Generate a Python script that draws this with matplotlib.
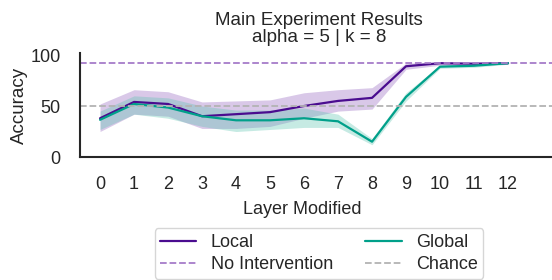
import numpy as np
import matplotlib
matplotlib.use('Agg')
import matplotlib.pyplot as plt
import seaborn as sns

layers = list(range(13))
local_acc = [38, 54, 52, 40, 42, 44, 50, 55, 58, 89, 92, 91.5, 92]
local_lo = [25, 42, 40, 28, 28, 30, 38, 45, 47, 86, 90, 90, 91]
local_hi = [52, 66, 64, 54, 55, 56, 63, 66, 68, 92, 93, 93, 93]
global_acc = [36.5, 52, 48.5, 40, 36, 36, 38, 35, 15, 59, 88.6, 89.5, 92]
global_lo = [27, 42, 38, 30, 25, 27, 29, 29, 12, 55, 87, 88, 91]
global_hi = [45, 60, 58, 50, 46, 46, 48, 42, 18, 63, 90, 91, 93]
no_intervention = 92
chance = 50

sns.set_theme(style='white')
plt.rcParams['font.family'] = ['Liberation Sans', 'DejaVu Sans']

local_color = '#4a0c8f'
global_color = '#00a08a'

fig = plt.figure(figsize=(5.52, 2.8), dpi=100)
ax = fig.add_axes([80 / 552, 1 - 157 / 280, 478 / 552, 104 / 280])

ax.plot(layers, local_acc, color=local_color, lw=1.6, label='Local')
ax.fill_between(layers, local_lo, local_hi, color='#9b6fc4', alpha=0.38, lw=0)
ax.plot(layers, global_acc, color=global_color, lw=1.6, label='Global')
ax.fill_between(layers, global_lo, global_hi, color='#5cc4b0', alpha=0.35, lw=0)
ax.axhline(no_intervention, color='#a67cc9', ls='--', lw=1.3, label='No Intervention')
ax.axhline(chance, color='#b3b3b3', ls='--', lw=1.3, label='Chance')

ax.set_xlim(-0.59, 13.47)
ax.set_ylim(0, 102)
ax.set_xticks(layers)
ax.set_yticks([0, 50, 100])
ax.tick_params(axis='x', pad=14, labelsize=13, length=0)
ax.tick_params(axis='y', pad=14, labelsize=13, length=0)
ax.set_xlabel('Layer Modified', fontsize=13)
ax.xaxis.set_label_coords((302 - 80) / 478, -0.42)
ax.set_ylabel('Accuracy', fontsize=13.5, labelpad=2)
ax.set_title('Main Experiment Results\nalpha = 5 | k = 8', fontsize=13.5, linespacing=1.0, pad=8)
for side in ['top', 'right']:
    ax.spines[side].set_visible(False)
for side in ['left', 'bottom']:
    ax.spines[side].set_color('#262626')
    ax.spines[side].set_linewidth(1.5)

handles, labels = ax.get_legend_handles_labels()
order = [0, 2, 1, 3]
ax.legend([handles[i] for i in order], [labels[i] for i in order], ncol=2,
          loc='upper center', bbox_to_anchor=(0.5, -0.60), fontsize=13,
          frameon=True, columnspacing=1.8, handlelength=2.0,
          borderpad=0.3, labelspacing=0.3)

fig.savefig('out.png', dpi=100)
